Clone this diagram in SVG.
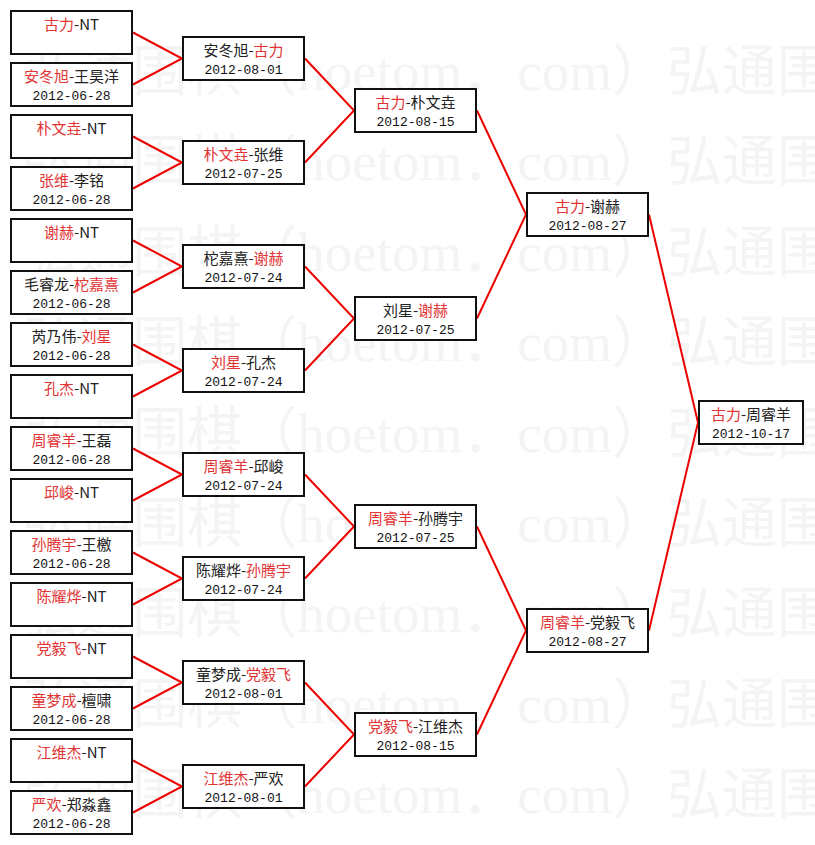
<svg xmlns="http://www.w3.org/2000/svg" width="815" height="845" viewBox="0 0 815 845">
<style>
.bg{fill:#ffffff}
.wm{font-family:"Liberation Serif","Noto Sans CJK SC",serif;font-size:55px;fill:#f4f4f4}
.box{fill:#ffffff;stroke:#111111;stroke-width:2}
.n{font-family:"Noto Sans CJK SC","Noto Sans CJK JP",sans-serif;font-size:15px;fill:#222222;text-anchor:middle}
.d{font-family:"Liberation Mono","DejaVu Sans Mono",monospace;font-size:13px;fill:#111111;text-anchor:middle}
.r{fill:#e23434}
.c{stroke:#ee0000;stroke-width:2;fill:none}
</style>
<rect class="bg" x="0" y="0" width="815" height="845"/>
<g id="watermark">
<text class="wm" x="667" y="90" text-anchor="end">弘通围棋（hoetom．com）</text><text class="wm" x="667" y="90">弘通围棋</text>
<text class="wm" x="667" y="180" text-anchor="end">弘通围棋（hoetom．com）</text><text class="wm" x="667" y="180">弘通围棋</text>
<text class="wm" x="667" y="271" text-anchor="end">弘通围棋（hoetom．com）</text><text class="wm" x="667" y="271">弘通围棋</text>
<text class="wm" x="667" y="361" text-anchor="end">弘通围棋（hoetom．com）</text><text class="wm" x="667" y="361">弘通围棋</text>
<text class="wm" x="667" y="452" text-anchor="end">弘通围棋（hoetom．com）</text><text class="wm" x="667" y="452">弘通围棋</text>
<text class="wm" x="667" y="542" text-anchor="end">弘通围棋（hoetom．com）</text><text class="wm" x="667" y="542">弘通围棋</text>
<text class="wm" x="667" y="632" text-anchor="end">弘通围棋（hoetom．com）</text><text class="wm" x="667" y="632">弘通围棋</text>
<text class="wm" x="667" y="723" text-anchor="end">弘通围棋（hoetom．com）</text><text class="wm" x="667" y="723">弘通围棋</text>
<text class="wm" x="667" y="813" text-anchor="end">弘通围棋（hoetom．com）</text><text class="wm" x="667" y="813">弘通围棋</text>
</g>
<g id="connectors">
<path class="c" d="M133 32.5L182 58.5L133 84.5"/>
<path class="c" d="M133 136.5L182 162.5L133 188.5"/>
<path class="c" d="M133 240.5L182 266.5L133 292.5"/>
<path class="c" d="M133 344.5L182 370.5L133 396.5"/>
<path class="c" d="M133 448.5L182 474.5L133 500.5"/>
<path class="c" d="M133 552.5L182 578.5L133 604.5"/>
<path class="c" d="M133 656.5L182 682.5L133 708.5"/>
<path class="c" d="M133 760.5L182 786.5L133 812.5"/>
<path class="c" d="M305 58.5L354 110.5L305 162.5"/>
<path class="c" d="M305 266.5L354 318.5L305 370.5"/>
<path class="c" d="M305 474.5L354 526.5L305 578.5"/>
<path class="c" d="M305 682.5L354 734.5L305 786.5"/>
<path class="c" d="M477 110.5L526 214.5L477 318.5"/>
<path class="c" d="M477 526.5L526 630.5L477 734.5"/>
<path class="c" d="M649 214.5L698 422.5L649 630.5"/>
</g>
<g id="L1"><rect class="box" x="11" y="11" width="121" height="43"/><text class="n" x="71.5" y="30"><tspan class="r">古力</tspan>-NT</text></g>
<g id="L2"><rect class="box" x="11" y="63" width="121" height="43"/><text class="n" x="71.5" y="82"><tspan class="r">安冬旭</tspan>-王昊洋</text><text class="d" x="71.5" y="100">2012-06-28</text></g>
<g id="L3"><rect class="box" x="11" y="115" width="121" height="43"/><text class="n" x="71.5" y="134"><tspan class="r">朴文垚</tspan>-NT</text></g>
<g id="L4"><rect class="box" x="11" y="167" width="121" height="43"/><text class="n" x="71.5" y="186"><tspan class="r">张维</tspan>-李铭</text><text class="d" x="71.5" y="204">2012-06-28</text></g>
<g id="L5"><rect class="box" x="11" y="219" width="121" height="43"/><text class="n" x="71.5" y="238"><tspan class="r">谢赫</tspan>-NT</text></g>
<g id="L6"><rect class="box" x="11" y="271" width="121" height="43"/><text class="n" x="71.5" y="290">毛睿龙-<tspan class="r">柁嘉熹</tspan></text><text class="d" x="71.5" y="308">2012-06-28</text></g>
<g id="L7"><rect class="box" x="11" y="323" width="121" height="43"/><text class="n" x="71.5" y="342">芮乃伟-<tspan class="r">刘星</tspan></text><text class="d" x="71.5" y="360">2012-06-28</text></g>
<g id="L8"><rect class="box" x="11" y="375" width="121" height="43"/><text class="n" x="71.5" y="394"><tspan class="r">孔杰</tspan>-NT</text></g>
<g id="L9"><rect class="box" x="11" y="427" width="121" height="43"/><text class="n" x="71.5" y="446"><tspan class="r">周睿羊</tspan>-王磊</text><text class="d" x="71.5" y="464">2012-06-28</text></g>
<g id="L10"><rect class="box" x="11" y="479" width="121" height="43"/><text class="n" x="71.5" y="498"><tspan class="r">邱峻</tspan>-NT</text></g>
<g id="L11"><rect class="box" x="11" y="531" width="121" height="43"/><text class="n" x="71.5" y="550"><tspan class="r">孙腾宇</tspan>-王檄</text><text class="d" x="71.5" y="568">2012-06-28</text></g>
<g id="L12"><rect class="box" x="11" y="583" width="121" height="43"/><text class="n" x="71.5" y="602"><tspan class="r">陈耀烨</tspan>-NT</text></g>
<g id="L13"><rect class="box" x="11" y="635" width="121" height="43"/><text class="n" x="71.5" y="654"><tspan class="r">党毅飞</tspan>-NT</text></g>
<g id="L14"><rect class="box" x="11" y="687" width="121" height="43"/><text class="n" x="71.5" y="706"><tspan class="r">童梦成</tspan>-檀啸</text><text class="d" x="71.5" y="724">2012-06-28</text></g>
<g id="L15"><rect class="box" x="11" y="739" width="121" height="43"/><text class="n" x="71.5" y="758"><tspan class="r">江维杰</tspan>-NT</text></g>
<g id="L16"><rect class="box" x="11" y="791" width="121" height="43"/><text class="n" x="71.5" y="810"><tspan class="r">严欢</tspan>-郑淼鑫</text><text class="d" x="71.5" y="828">2012-06-28</text></g>
<g id="R2a"><rect class="box" x="183" y="37" width="121" height="43"/><text class="n" x="243.5" y="56">安冬旭-<tspan class="r">古力</tspan></text><text class="d" x="243.5" y="74">2012-08-01</text></g>
<g id="R2b"><rect class="box" x="183" y="141" width="121" height="43"/><text class="n" x="243.5" y="160"><tspan class="r">朴文垚</tspan>-张维</text><text class="d" x="243.5" y="178">2012-07-25</text></g>
<g id="R2c"><rect class="box" x="183" y="245" width="121" height="43"/><text class="n" x="243.5" y="264">柁嘉熹-<tspan class="r">谢赫</tspan></text><text class="d" x="243.5" y="282">2012-07-24</text></g>
<g id="R2d"><rect class="box" x="183" y="349" width="121" height="43"/><text class="n" x="243.5" y="368"><tspan class="r">刘星</tspan>-孔杰</text><text class="d" x="243.5" y="386">2012-07-24</text></g>
<g id="R2e"><rect class="box" x="183" y="453" width="121" height="43"/><text class="n" x="243.5" y="472"><tspan class="r">周睿羊</tspan>-邱峻</text><text class="d" x="243.5" y="490">2012-07-24</text></g>
<g id="R2f"><rect class="box" x="183" y="557" width="121" height="43"/><text class="n" x="243.5" y="576">陈耀烨-<tspan class="r">孙腾宇</tspan></text><text class="d" x="243.5" y="594">2012-07-24</text></g>
<g id="R2g"><rect class="box" x="183" y="661" width="121" height="43"/><text class="n" x="243.5" y="680">童梦成-<tspan class="r">党毅飞</tspan></text><text class="d" x="243.5" y="698">2012-08-01</text></g>
<g id="R2h"><rect class="box" x="183" y="765" width="121" height="43"/><text class="n" x="243.5" y="784"><tspan class="r">江维杰</tspan>-严欢</text><text class="d" x="243.5" y="802">2012-08-01</text></g>
<g id="R3a"><rect class="box" x="355" y="89" width="121" height="43"/><text class="n" x="415.5" y="108"><tspan class="r">古力</tspan>-朴文垚</text><text class="d" x="415.5" y="126">2012-08-15</text></g>
<g id="R3b"><rect class="box" x="355" y="297" width="121" height="43"/><text class="n" x="415.5" y="316">刘星-<tspan class="r">谢赫</tspan></text><text class="d" x="415.5" y="334">2012-07-25</text></g>
<g id="R3c"><rect class="box" x="355" y="505" width="121" height="43"/><text class="n" x="415.5" y="524"><tspan class="r">周睿羊</tspan>-孙腾宇</text><text class="d" x="415.5" y="542">2012-07-25</text></g>
<g id="R3d"><rect class="box" x="355" y="713" width="121" height="43"/><text class="n" x="415.5" y="732"><tspan class="r">党毅飞</tspan>-江维杰</text><text class="d" x="415.5" y="750">2012-08-15</text></g>
<g id="R4a"><rect class="box" x="527" y="193" width="121" height="43"/><text class="n" x="587.5" y="212"><tspan class="r">古力</tspan>-谢赫</text><text class="d" x="587.5" y="230">2012-08-27</text></g>
<g id="R4b"><rect class="box" x="527" y="609" width="121" height="43"/><text class="n" x="587.5" y="628"><tspan class="r">周睿羊</tspan>-党毅飞</text><text class="d" x="587.5" y="646">2012-08-27</text></g>
<g id="F"><rect class="box" x="699" y="401" width="104" height="43"/><text class="n" x="751" y="420"><tspan class="r">古力</tspan>-周睿羊</text><text class="d" x="751" y="438">2012-10-17</text></g>
</svg>
